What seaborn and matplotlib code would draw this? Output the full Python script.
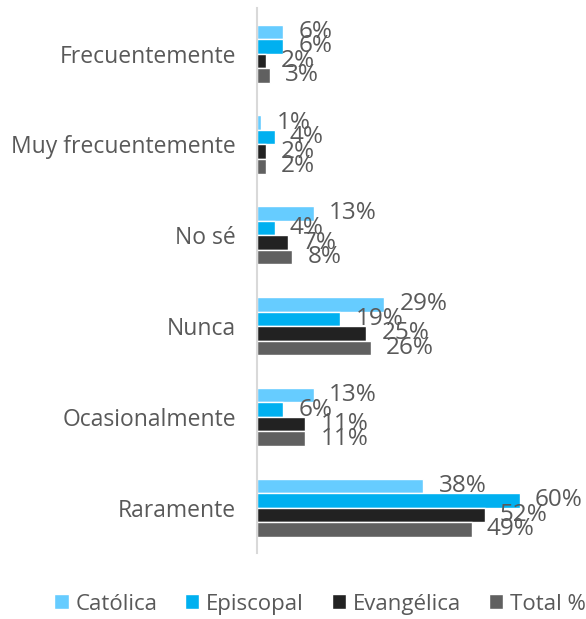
import pandas as pd
import matplotlib
matplotlib.use("Agg")
import matplotlib.pyplot as plt
import seaborn as sns

# Chart data
categories = ["Frecuentemente", "Muy frecuentemente", "No sé", "Nunca",
              "Ocasionalmente", "Raramente"]
series = ["Católica", "Episcopal", "Evangélica", "Total %"]
catolica = [6, 1, 13, 29, 13, 38]
episcopal = [6, 4, 4, 19, 6, 60]
evangelica = [2, 2, 7, 25, 11, 52]
total = [3, 2, 8, 26, 11, 49]
colors = ["#66CCFF", "#00B0F0", "#222222", "#606060"]

# Build a long table for seaborn
rows = []
for name, vals in zip(series, [catolica, episcopal, evangelica, total]):
    for cat, v in zip(categories, vals):
        rows.append({"Respuesta": cat, "Serie": name, "Valor": v})
df = pd.DataFrame(rows)

sns.set_style("white")
plt.rcParams["font.family"] = ["Open Sans", "DejaVu Sans"]
text_color = "#595959"

fig = plt.figure(figsize=(5.86, 6.19), dpi=100)
ax = fig.add_axes([0.4386, 0.1066, 0.523, 0.880])

sns.barplot(data=df, y="Respuesta", x="Valor", hue="Serie",
            order=categories, hue_order=series, palette=colors,
            orient="h", width=0.64, saturation=1, ax=ax, legend=True)

# Data labels
for cont in ax.containers:
    ax.bar_label(cont, fmt="%.0f%%", padding=11, fontsize=17.5,
                 color=text_color)

ax.set_xlim(0, 70)
ax.set_xlabel("")
ax.set_ylabel("")
ax.set_xticks([])
ax.tick_params(axis="y", length=0, pad=15, labelsize=16.5,
               labelcolor=text_color)
for s in ["top", "right", "bottom"]:
    ax.spines[s].set_visible(False)
ax.spines["left"].set_color("#D9D9D9")
ax.spines["left"].set_linewidth(1.5)

ax.get_legend().remove()
handles, labels = ax.get_legend_handles_labels()
fig.legend(handles, labels, loc="center", bbox_to_anchor=(0.546, 0.024),
           ncol=4, frameon=False, fontsize=16, labelcolor=text_color,
           handlelength=0.65, handleheight=0.65, handletextpad=0.3,
           columnspacing=1.25, borderpad=0.2)

plt.savefig("out.png", dpi=100)
